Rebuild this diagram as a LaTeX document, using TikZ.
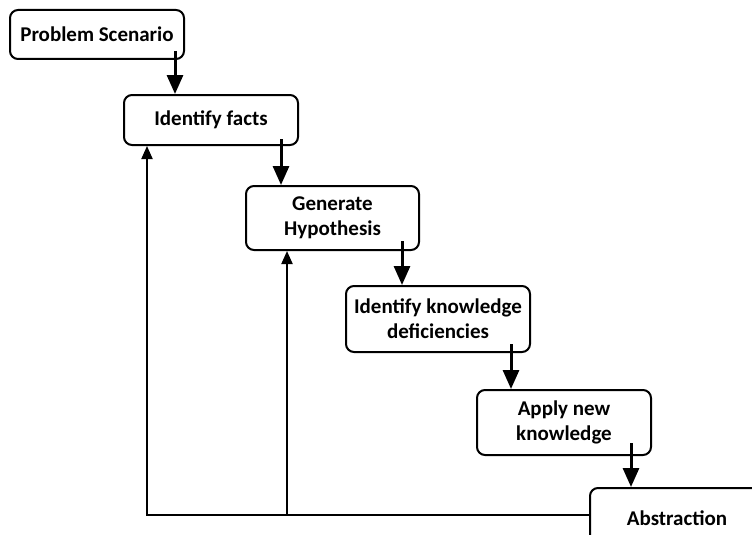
\documentclass[tikz,border=0pt]{standalone}
\usepackage{fontspec}
\setmainfont{Carlito}
\usetikzlibrary{arrows.meta}

\tikzset{
  stage/.style={draw=black,line width=2pt,rounded corners=8pt,fill=white,
    align=center,font=\bfseries\fontsize{21}{25}\selectfont,inner sep=2pt},
  flow/.style={line width=3pt,-{Triangle[width=16pt,length=19pt]}},
  back/.style={line width=2pt,-{Triangle[width=11pt,length=13pt]}}
}

\begin{document}
\begin{tikzpicture}[x=1pt,y=-1pt]
\useasboundingbox (0,0) rectangle (752,535);

% Stages of the cycle
\node[stage,minimum width=174pt,minimum height=49pt] (ps) at (97,34.5) {Problem Scenario};
\node[stage,minimum width=174pt,minimum height=50pt] (facts) at (211,120) {Identify facts};
\node[stage,minimum width=173pt,minimum height=64pt] (hyp) at (332.5,218) {Generate\\Hypothesis};
\node[stage,minimum width=184pt,minimum height=66pt] (defic) at (438,319) {Identify knowledge\\deficiencies};
\node[stage,minimum width=174pt,minimum height=65pt] (apply) at (564,422.5) {Apply new\\knowledge};
\node[stage,minimum width=174pt,minimum height=60pt] (abs) at (677,518) {Abstraction};

% Forward arrows, starting inside each box
\coordinate (s1) at ([shift={(-10,-9)}]ps.south east);
\coordinate (s2) at ([shift={(-18,-7)}]facts.south east);
\coordinate (s3) at ([shift={(-18,-10)}]hyp.south east);
\coordinate (s4) at ([shift={(-20,-9)}]defic.south east);
\coordinate (s5) at ([shift={(-21,-13)}]apply.south east);
\draw[flow] (s1) -- (s1 |- facts.north);
\draw[flow] (s2) -- (s2 |- hyp.north);
\draw[flow] (s3) -- (s3 |- defic.north);
\draw[flow] (s4) -- (s4 |- apply.north);
\draw[flow] (s5) -- (s5 |- abs.north);

% Feedback from abstraction
\coordinate (fb) at ([shift={(0,-3)}]abs.west);
\draw[back] (fb) -| ([shift={(24,0)}]facts.south west);
\draw[back] (fb) -| ([shift={(42,0)}]hyp.south west);
\end{tikzpicture}
\end{document}
